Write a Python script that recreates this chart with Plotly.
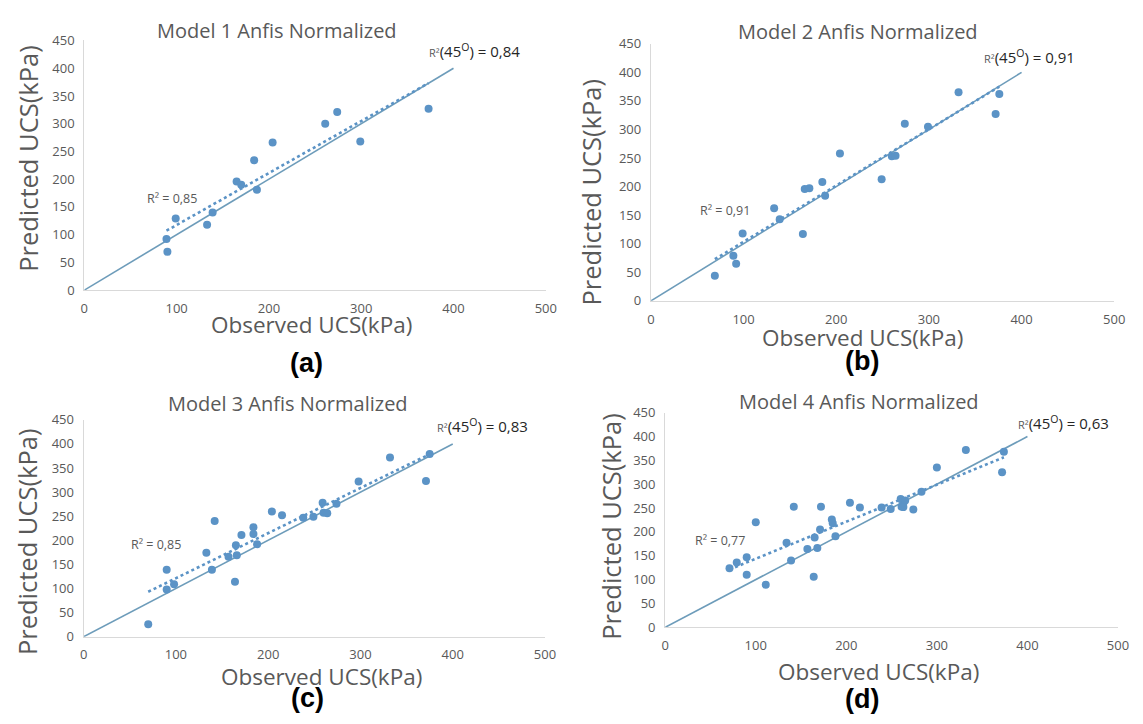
import numpy as np
import plotly.graph_objects as go

W, H = 1143, 724

# Observed vs predicted UCS (kPa) for the four ANFIS models
m1_obs = [89, 90, 99, 133, 139, 165, 170, 184, 187, 204, 261, 274, 299, 373]
m1_pred = [92, 69, 129, 118, 140, 196, 190, 234, 181, 266, 300, 321, 268, 327]

m2_obs = [69, 89, 92, 99, 133, 139, 164, 166, 171, 185, 188, 204, 249, 260, 264,
          274, 299, 332, 372, 376]
m2_pred = [44, 79, 65, 118, 162, 143, 117, 196, 197, 208, 184, 258, 213, 253, 254,
           310, 305, 365, 327, 362]

m3_obs = [70, 90, 90, 98, 133, 139, 142, 157, 164, 165, 166, 171, 184, 184, 188,
          204, 215, 238, 249, 259, 260, 264, 274, 298, 332, 371, 375]
m3_pred = [26, 139, 98, 109, 174, 139, 240, 166, 114, 190, 169, 211, 227, 213, 192,
           260, 252, 247, 249, 278, 257, 256, 276, 322, 372, 323, 379]

m4_obs = [71, 79, 90, 90, 100, 111, 134, 139, 142, 157, 164, 165, 168, 171, 172,
          184, 185, 188, 204, 215, 239, 249, 260, 261, 263, 265, 263, 274, 283,
          300, 332, 372, 374]
m4_pred = [124, 136, 147, 110, 220, 89, 177, 140, 253, 164, 106, 188, 166, 205, 253,
           226, 218, 191, 261, 251, 251, 248, 269, 253, 260, 266, 252, 247, 284,
           335, 372, 325, 368]

titles = ["Model 1 Anfis Normalized", "Model 2 Anfis Normalized",
          "Model 3 Anfis Normalized", "Model 4 Anfis Normalized"]
r2_fit = ["0,85", "0,91", "0,85", "0,77"]
r2_45 = ["0,84", "0,91", "0,83", "0,63"]
panel_tags = ["(a)", "(b)", "(c)", "(d)"]
x_ticks = [0, 100, 200, 300, 400, 500]
y_ticks = [0, 50, 100, 150, 200, 250, 300, 350, 400, 450]
ref_line = [0, 400]

series = [(m1_obs, m1_pred), (m2_obs, m2_pred), (m3_obs, m3_pred), (m4_obs, m4_pred)]

# Panel frames in pixels: (x at 0, x at 500, y at 0, y at 450)
frames = [
    (81.4, 549.0, 288.3, 32.3),
    (655.5, 1125.0, 299.3, 35.7),
    (80.7, 548.2, 643.7, 421.3),
    (670.0, 1128.8, 634.0, 414.0),
]
# Text anchors in pixels
title_pos = [(277, 22), (865, 23), (288, 405), (866, 402)]
ytitle_pos = [(25, 153), (595, 188), (24, 546), (615, 530)]
xtitle_pos = [(312, 324), (870, 337), (322, 685), (886, 679)]
tag_pos = [(307, 363), (869, 361), (308, 707), (869, 708)]
r45_pos = [(429, 43), (991, 49), (437, 427), (1025, 424)]
r2_pos = [(143, 194), (703, 207), (127, 549), (698, 545)]

GREY = "#595959"
DOT = "#5B93C6"
LINE = "#6D9CBA"
FONT = "Open Sans"


def px(x):
    return x / W


def py(y):
    return 1 - y / H


fig = go.Figure()
layout = dict(
    width=W, height=H, autosize=False,
    margin=dict(l=0, r=0, t=0, b=0),
    paper_bgcolor="white", plot_bgcolor="white",
    showlegend=False,
    font=dict(family=FONT, color=GREY),
)
annotations = []

for i, ((obs, pred), (x0, x1, y0, y1)) in enumerate(zip(series, frames)):
    k = "" if i == 0 else str(i + 1)
    xa, ya = "x" + k, "y" + k

    # 45 degree reference line
    fig.add_trace(go.Scatter(x=ref_line, y=ref_line, mode="lines", xaxis=xa, yaxis=ya,
                             line=dict(color=LINE, width=1.6), hoverinfo="skip"))
    # linear trendline of the predictions
    slope, icpt = np.polyfit(obs, pred, 1)
    tx = np.array([min(obs), max(obs)], dtype=float)
    fig.add_trace(go.Scatter(x=tx, y=slope * tx + icpt, mode="lines", xaxis=xa, yaxis=ya,
                             line=dict(color=DOT, width=2.6, dash="dot"), hoverinfo="skip"))
    # data points
    fig.add_trace(go.Scatter(x=obs, y=pred, mode="markers", xaxis=xa, yaxis=ya,
                             marker=dict(color=DOT, size=8, line=dict(width=0))))

    axis_common = dict(showgrid=False, zeroline=False, showline=True,
                       linecolor="#D9D9D9", linewidth=1.2, ticks="",
                       tickfont=dict(family=FONT, size=13, color=GREY),
                       fixedrange=True)
    layout["xaxis" + k] = dict(axis_common, domain=[px(x0), px(x1)], range=[0, 500],
                               tickvals=x_ticks, anchor=ya, ticklabelstandoff=6)
    layout["yaxis" + k] = dict(axis_common, domain=[py(y0), py(y1)], range=[0, 450],
                               tickvals=y_ticks, anchor=xa, ticklabelstandoff=6)

    tx_, ty_ = title_pos[i]
    annotations.append(dict(text=titles[i], x=px(tx_), y=py(ty_), xref="paper", yref="paper",
                            showarrow=False, xanchor="center", yanchor="middle",
                            font=dict(family=FONT, size=20, color=GREY)))
    yx, yy = ytitle_pos[i]
    annotations.append(dict(text="Predicted UCS(kPa)", x=px(yx), y=py(yy), xref="paper",
                            yref="paper", showarrow=False, textangle=-90,
                            xanchor="center", yanchor="middle",
                            font=dict(family=FONT, size=25.5, color=GREY)))
    xx, xy = xtitle_pos[i]
    annotations.append(dict(text="Observed UCS(kPa)", x=px(xx), y=py(xy), xref="paper",
                            yref="paper", showarrow=False, xanchor="center", yanchor="middle",
                            font=dict(family=FONT, size=22.5, color=GREY)))
    gx, gy = tag_pos[i]
    annotations.append(dict(text="<b>" + panel_tags[i] + "</b>", x=px(gx), y=py(gy),
                            xref="paper", yref="paper", showarrow=False,
                            xanchor="center", yanchor="middle",
                            font=dict(family="Liberation Sans", size=27, color="black")))
    rx, ry = r45_pos[i]
    annotations.append(dict(
        text=("<span style='font-size:11px;color:#595959'>R²</span>"
              "(45<sup>O</sup>) = " + r2_45[i]),
        x=px(rx), y=py(ry), xref="paper", yref="paper", showarrow=False,
        xanchor="left", yanchor="middle",
        font=dict(family=FONT, size=15, color="#262626")))
    qx, qy = r2_pos[i]
    annotations.append(dict(text="R² = " + r2_fit[i], x=px(qx), y=py(qy), xref="paper",
                            yref="paper", showarrow=False, xanchor="left", yanchor="middle",
                            font=dict(family=FONT, size=12.5, color=GREY)))

layout["annotations"] = annotations
fig.update_layout(**layout)
fig.write_html("out.html")
